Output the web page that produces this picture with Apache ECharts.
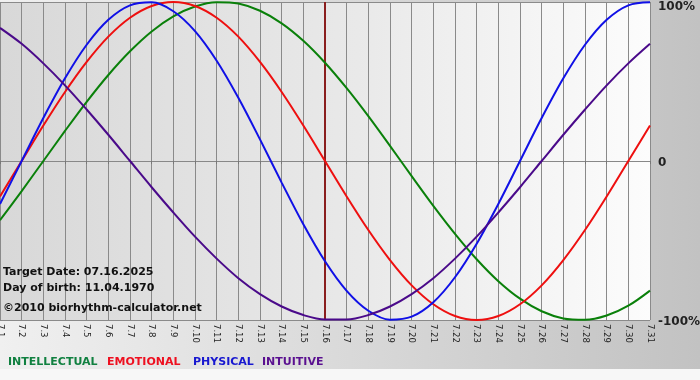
<!DOCTYPE html>
<html>
<head>
<meta charset="utf-8">
<script src="https://cdn.jsdelivr.net/npm/echarts@6/dist/echarts.min.js"></script>
<style>
html,body{margin:0;padding:0;background:#fff;}
#chart{width:700px;height:380px;}
</style>
</head>
<body>
<div id="chart"></div>
<script>
// Categories (days of July 2025)
var days = ['7.1','7.2','7.3','7.4','7.5','7.6','7.7','7.8','7.9','7.10','7.11','7.12','7.13','7.14','7.15','7.16','7.17','7.18','7.19','7.20','7.21','7.22','7.23','7.24','7.25','7.26','7.27','7.28','7.29','7.30','7.31'];
var targetDay = '7.16';

// Series values (fraction of 100%)
var intellectual = [-0.372,-0.189,0.000,0.189,0.372,0.541,0.690,0.815,0.910,0.972,0.999,0.990,0.945,0.866,0.756,0.618,0.458,0.282,0.095,-0.095,-0.282,-0.458,-0.618,-0.756,-0.866,-0.945,-0.990,-0.999,-0.972,-0.910,-0.815];
var emotional    = [-0.223,0.000,0.223,0.434,0.623,0.782,0.901,0.975,1.000,0.975,0.901,0.782,0.623,0.434,0.223,0.000,-0.223,-0.434,-0.623,-0.782,-0.901,-0.975,-1.000,-0.975,-0.901,-0.782,-0.623,-0.434,-0.223,0.000,0.223];
var physical     = [-0.270,0.000,0.270,0.520,0.731,0.888,0.979,0.998,0.942,0.817,0.631,0.398,0.136,-0.136,-0.398,-0.631,-0.817,-0.942,-0.998,-0.979,-0.888,-0.731,-0.520,-0.270,0.000,0.270,0.520,0.731,0.888,0.979,0.998];
var intuitive    = [0.837,0.737,0.614,0.476,0.324,0.165,0.000,-0.165,-0.324,-0.476,-0.614,-0.737,-0.837,-0.915,-0.969,-0.997,-0.997,-0.969,-0.915,-0.837,-0.737,-0.614,-0.476,-0.324,-0.165,0.000,0.165,0.324,0.476,0.614,0.737];

// Tick labels
var yTickLabels = {'1':'100%','0':'0','-1':'-100%'};
var legendNames = ['INTELLECTUAL','EMOTIONAL','PHYSICAL','INTUITIVE'];
var infoLines = ['Target Date: 07.16.2025','Day of birth: 11.04.1970','\u00a92010 biorhythm-calculator.net'];

var colors = ['#0a800a','#ee0f0f','#1010e6','#4a0a8a'];
var legendColors = ['#108040','#ee1020','#1818d0','#5a1090'];

var chart = echarts.init(document.getElementById('chart'), null, {renderer:'canvas'});
var FONT = 'DejaVu Sans';

function mk(name, data, color, extra){
  var s = {
    name: name, type: 'line', data: data, smooth: 0.33, symbol: 'none',
    lineStyle: {color: color, width: 2}, itemStyle:{color:color}, silent: true, z: 3
  };
  if (extra) for (var k in extra) s[k] = extra[k];
  return s;
}

var legendX = [8, 107, 193, 262];
var graphics = [
  {type:'rect', left:0, top:369, shape:{width:700,height:11}, style:{fill:'#f7f7f7'}, silent:true, z:-1}
];
legendNames.forEach(function(n,i){
  graphics.push({type:'text', left:legendX[i], top:357, style:{text:n, fill:legendColors[i], font:'bold 11px "'+FONT+'"'}, z:10});
});
graphics.push({type:'text', left:3, top:267, style:{text:infoLines[0], fill:'#111', font:'bold 11px "'+FONT+'"'}, z:10});
graphics.push({type:'text', left:3, top:283, style:{text:infoLines[1], fill:'#111', font:'bold 11px "'+FONT+'"'}, z:10});
graphics.push({type:'text', left:3, top:303, style:{text:infoLines[2], fill:'#111', font:'bold 11px "'+FONT+'"'}, z:10});

chart.setOption({
  animation: false,
  backgroundColor: {type:'linear', x:0, y:0, x2:1, y2:0, colorStops:[{offset:0,color:'#f0f0f0'},{offset:1,color:'#c2c2c2'}]},
  textStyle: {fontFamily: FONT},
  grid: {
    left: 0, right: 50, top: 2, bottom: 60, show: true, borderWidth: 0,
    outerBoundsMode: 'none', containLabel: false,
    backgroundColor: {type:'linear', x:0, y:0, x2:1, y2:0, colorStops:[{offset:0,color:'#d8d8d8'},{offset:0.55,color:'#e9e9e9'},{offset:1,color:'#fcfcfc'}]}
  },
  xAxis: {
    type: 'category', data: days, boundaryGap: false,
    axisLine: {show: true, lineStyle: {color: '#888', width: 1}},
    axisTick: {show: true, length: 3, lineStyle: {color: '#777'}},
    splitLine: {show: true, lineStyle: {color: '#8a8a8a', width: 1}},
    axisLabel: {rotate: -90, interval: 0, fontSize: 8.5, color: '#222', margin: 4, fontFamily: FONT, hideOverlap: false}
  },
  yAxis: {
    type: 'value', position: 'right', min: -1, max: 1, interval: 1,
    axisLine: {show: false}, axisTick: {show: false},
    splitLine: {show: true, lineStyle: {color: '#8a8a8a', width: 1}},
    axisLabel: {
      margin: 8, color: '#222', fontWeight: 'bold', fontSize: 12, fontFamily: FONT,
      formatter: function(v){
        var t = yTickLabels[String(Math.round(v))];
        return v > 0.5 ? '{t|' + t + '}' : '{n|' + t + '}';
      },
      rich: {
        t: {padding: [10,0,0,0], fontWeight:'bold', fontSize:12, color:'#222', fontFamily: FONT},
        n: {padding: [3,0,0,0], fontWeight:'bold', fontSize:12, color:'#222', fontFamily: FONT}
      }
    }
  },
  series: [
    mk(legendNames[0], intellectual, colors[0], {
      markLine: {silent:true, symbol:['none','none'], label:{show:false}, lineStyle:{color:'#8a1e1e', width:2, type:'solid'}, data:[{xAxis: targetDay}], z: 2}
    }),
    mk(legendNames[1], emotional, colors[1]),
    mk(legendNames[2], physical, colors[2]),
    mk(legendNames[3], intuitive, colors[3])
  ],
  graphic: graphics
});
</script>
</body>
</html>
